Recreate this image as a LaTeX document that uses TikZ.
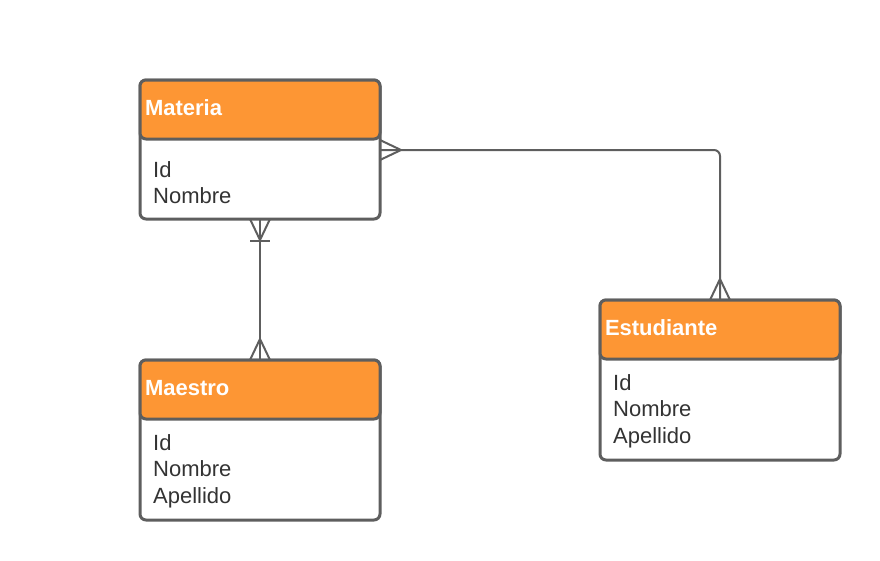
\documentclass[tikz,border=0pt]{standalone}
\usepackage{fontspec}
\setmainfont{Liberation Sans}
\usetikzlibrary{positioning, calc}
\definecolor{ergray}{RGB}{94,94,94}
\definecolor{erorange}{RGB}{253,150,52}
\definecolor{ertext}{RGB}{51,51,51}
\tikzset{entity/.style={draw=ergray, line width=3pt, rounded corners=6pt, fill=white, minimum width=240pt, inner sep=0pt, outer sep=0pt, anchor=north west}}
\tikzset{header/.style={draw=ergray, line width=3pt, rounded corners=6pt, fill=erorange, minimum width=240pt, minimum height=59pt, text width=230pt, inner xsep=5pt, inner ysep=0pt, outer sep=0pt, text depth=4pt, anchor=north, align=left, text=white, font=\fontsize{22}{26}\selectfont\bfseries}}
\tikzset{attrs/.style={inner sep=0pt, align=left, anchor=north west, text=ertext, font=\fontsize{22}{26.7}\selectfont}}
\tikzset{link/.style={draw=ergray, line width=2pt}}
\tikzset{crow/.pic={\draw[link] (-10,0) -- (0,21) -- (10,0);}}
\tikzset{crowbar/.pic={\draw[link] (-10,0) -- (0,21) -- (10,0); \draw[link] (-10,22) -- (10,22);}}

\begin{document}
\begin{tikzpicture}[x=1pt, y=-1pt]
  \useasboundingbox (0,0) rectangle (880,560);
  %Nodes
  \node[entity, minimum height=139pt] (materia) at (140,80) {};
  \node[header] (materia-h) at (materia.north) {Materia};
  \node[attrs] (materia-a) [below right=22pt and 13pt of materia-h.south west] {Id\\Nombre};
  \node[entity, minimum height=160pt] (maestro) at (140,360) {};
  \node[header] (maestro-h) at (maestro.north) {Maestro};
  \node[attrs] (maestro-a) [below right=15pt and 13pt of maestro-h.south west] {Id\\Nombre\\Apellido};
  \node[entity, minimum height=160pt] (estudiante) at (600,300) {};
  \node[header] (estudiante-h) at (estudiante.north) {Estudiante};
  \node[attrs] (estudiante-a) [below right=15pt and 13pt of estudiante-h.south west] {Id\\Nombre\\Apellido};
  % Edges
  \coordinate (materia-e) at ($(materia.north east)+(0,70)$);
  \draw[link] (materia.south) -- (maestro.north);
  \draw[link, rounded corners=6pt] (materia-e) -| (estudiante.north);
  \pic at (materia.south) {crowbar};
  \pic[rotate=180] at (maestro.north) {crow};
  \pic[rotate=90] at (materia-e) {crow};
  \pic[rotate=180] at (estudiante.north) {crow};
\end{tikzpicture}
\end{document}
